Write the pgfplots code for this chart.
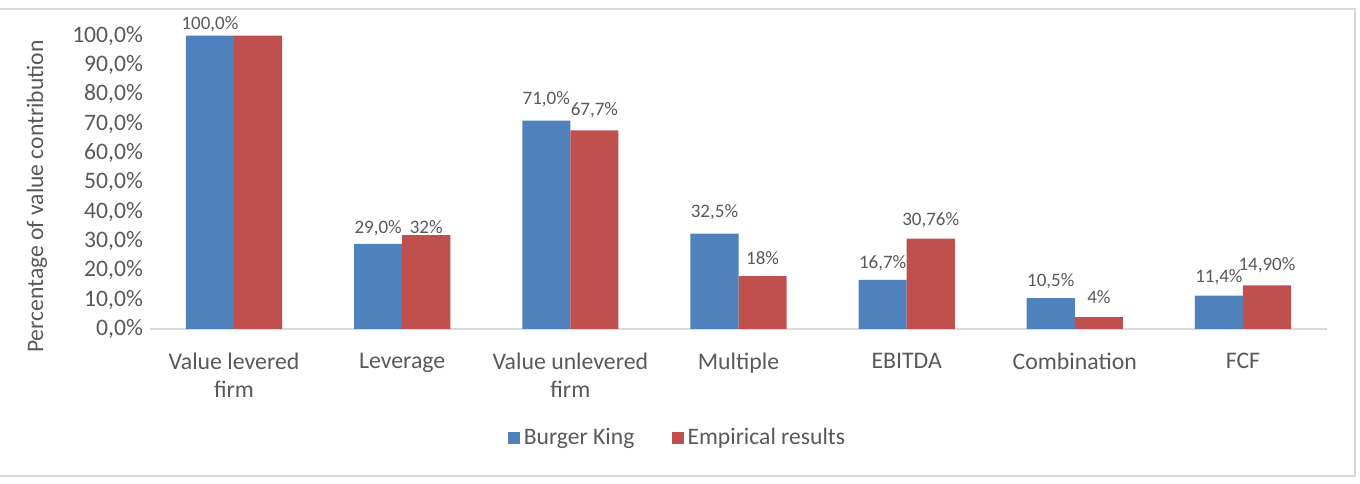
\documentclass[border=0pt]{standalone}
\usepackage{pgfplots}
\pgfplotsset{compat=1.18}
\usepackage{fontspec}
\setmainfont{Carlito}
\definecolor{bk}{HTML}{4F81BD}
\definecolor{er}{HTML}{C0504D}
\definecolor{txt}{HTML}{595959}
\definecolor{ln}{HTML}{D9D9D9}
\begin{document}
\begin{tikzpicture}
\begin{axis}[
  scale only axis, width=588.5pt, height=154pt,
  xmin=-0.5, xmax=6.5, ymin=0, ymax=105,
  axis line style={draw=none},
  major tick length=0pt,
  clip=false,
  xtick={0,1,2,3,4,5,6},
  xticklabels={{Value levered\\firm},Leverage,{Value unlevered\\firm},Multiple,EBITDA,Combination,FCF},
  xticklabel style={align=center, font=\fontsize{11.9}{14}\selectfont, text=txt, yshift=-8.5pt},
  ytick={0,10,20,30,40,50,60,70,80,90,100},
  yticklabels={{0,0\%},{10,0\%},{20,0\%},{30,0\%},{40,0\%},{50,0\%},{60,0\%},{70,0\%},{80,0\%},{90,0\%},{100,0\%}},
  yticklabel style={font=\fontsize{11.8}{13}\selectfont, text=txt},
  legend style={draw=none, fill=none, legend columns=2, at={(0.449,-0.354)}, anchor=center,
    font=\fontsize{11.8}{14}\selectfont, text=txt,
    nodes={inner sep=1.8pt}},
  legend image code/.code={\fill[#1] (0pt,-3pt) rectangle (6pt,3pt);},
]
\draw[ln, line width=1pt] (rel axis cs:0,0) -- (rel axis cs:1,0);
\addplot[ybar, bar width=0.286, bar shift=-0.143, fill=bk, draw=none] coordinates {
 (0,100) (1,29.0) (2,71.0) (3,32.5) (4,16.7) (5,10.5) (6,11.4)};
\addlegendentry{Burger King\rule{17pt}{0pt}}
\addplot[ybar, bar width=0.286, bar shift=0.143, fill=er, draw=none] coordinates {
 (0,100) (1,32) (2,67.7) (3,18) (4,30.76) (5,4) (6,14.90)};
\addlegendentry{Empirical results}
\addplot[forget plot, draw=none, mark=none, nodes near coords, point meta=explicit symbolic,
  nodes near coords align={center},
  every node near coord/.append style={font=\fontsize{9.5}{10}\selectfont, text=txt, anchor=center}]
 coordinates {
 (-0.143,103.8) [100,0\%]
 (0.857,34.5) [29,0\%]
 (1.143,34.8) [32\%]
 (1.857,78.2) [71,0\%]
 (2.143,74.7) [67,7\%]
 (2.857,39.9) [32,5\%]
 (3.143,24.2) [18\%]
 (3.857,22.5) [16,7\%]
 (4.143,37.2) [30,76\%]
 (4.857,16.4) [10,5\%]
 (5.143,10.9) [4\%]
 (5.857,17.7) [11,4\%]
 (6.143,21.8) [14,90\%]
};
\node[rotate=90, font=\fontsize{11.8}{14}\selectfont, text=txt] at (rel axis cs:-0.096,0.43) {Percentage of value contribution};
\draw[ln, line width=1pt] (rel axis cs:-0.2,1.039) -- (rel axis cs:1.024,1.039) -- (rel axis cs:1.024,-0.477) -- (rel axis cs:-0.2,-0.477);
\coordinate (bl) at (rel axis cs:-0.1274,-0.503);
\coordinate (tr) at (rel axis cs:1.028,1.068);
\end{axis}
\pgfresetboundingbox
\useasboundingbox (bl) rectangle (tr);
\end{tikzpicture}
\end{document}
